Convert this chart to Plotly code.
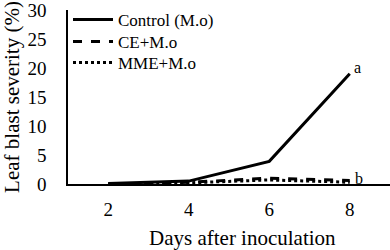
import plotly.graph_objects as go

days = [2, 4, 6, 8]
control = [0.1, 0.5, 3.9, 19.0]
ce = [0.0, 0.3, 1.0, 0.6]
mme = [0.0, 0.2, 0.7, 0.3]
series_names = ["Control (M.o)", "CE+M.o", "MME+M.o"]
letters = ["a", "b"]
x_title = "Days after inoculation"
y_title = "Leaf blast severity (%)"

font_family = "Liberation Serif, Times New Roman, serif"
legend_font = dict(size=17, family=font_family, color="black")

fig = go.Figure()
fig.add_trace(go.Scatter(x=days, y=control, mode="lines", name=series_names[0],
                         line=dict(color="black", width=3), legend="legend"))
fig.add_trace(go.Scatter(x=days, y=ce, mode="lines", name=series_names[1],
                         line=dict(color="black", width=3, dash="dash"), legend="legend2"))
fig.add_trace(go.Scatter(x=days, y=mme, mode="lines", name=series_names[2],
                         line=dict(color="black", width=3, dash="dot"), legend="legend3"))

fig.add_annotation(x=days[-1], y=control[-1], text=letters[0], showarrow=False,
                   xanchor="left", yanchor="middle", xshift=2, yshift=6,
                   font=dict(size=16, family=font_family, color="black"))
fig.add_annotation(x=days[-1], y=ce[-1], text=letters[1], showarrow=False,
                   xanchor="left", yanchor="middle", xshift=3, yshift=2,
                   font=dict(size=16, family=font_family, color="black"))
fig.add_annotation(x=0.543, y=0, xref="paper", yref="paper", text=x_title,
                   showarrow=False, xanchor="center", yanchor="middle", yshift=-54,
                   font=dict(size=21, family=font_family, color="black"))

leg_common = dict(x=0.0, xanchor="left", yanchor="middle", bgcolor="rgba(0,0,0,0)",
                  font=legend_font, borderwidth=0, itemwidth=40)

fig.update_layout(
    width=390, height=250,
    margin=dict(l=68, r=0, t=10, b=66),
    paper_bgcolor="white", plot_bgcolor="white",
    font=dict(family=font_family, size=19, color="black"),
    showlegend=True,
    legend=dict(y=0.9425, **leg_common),
    legend2=dict(y=0.816, **leg_common),
    legend3=dict(y=0.695, **leg_common),
    xaxis=dict(range=[1, 9], tickvals=days, ticktext=[str(d) for d in days],
               showline=True, linecolor="black", linewidth=1.5,
               showgrid=False, zeroline=False, ticks="", automargin=False,
               ticklabelstandoff=7, ticklabeloverflow="allow"),
    yaxis=dict(range=[0, 30], tickvals=[0, 5, 10, 15, 20, 25, 30],
               showline=True, linecolor="black", linewidth=1.5,
               showgrid=False, zeroline=False, ticks="", automargin=False,
               ticklabelstandoff=16, ticklabeloverflow="allow",
               title=dict(text=y_title, font=dict(size=21), standoff=3)),
)

fig.write_html("out.html", config={"displayModeBar": False},
               post_script="document.body.style.margin='0px';document.body.style.overflow='hidden';")
